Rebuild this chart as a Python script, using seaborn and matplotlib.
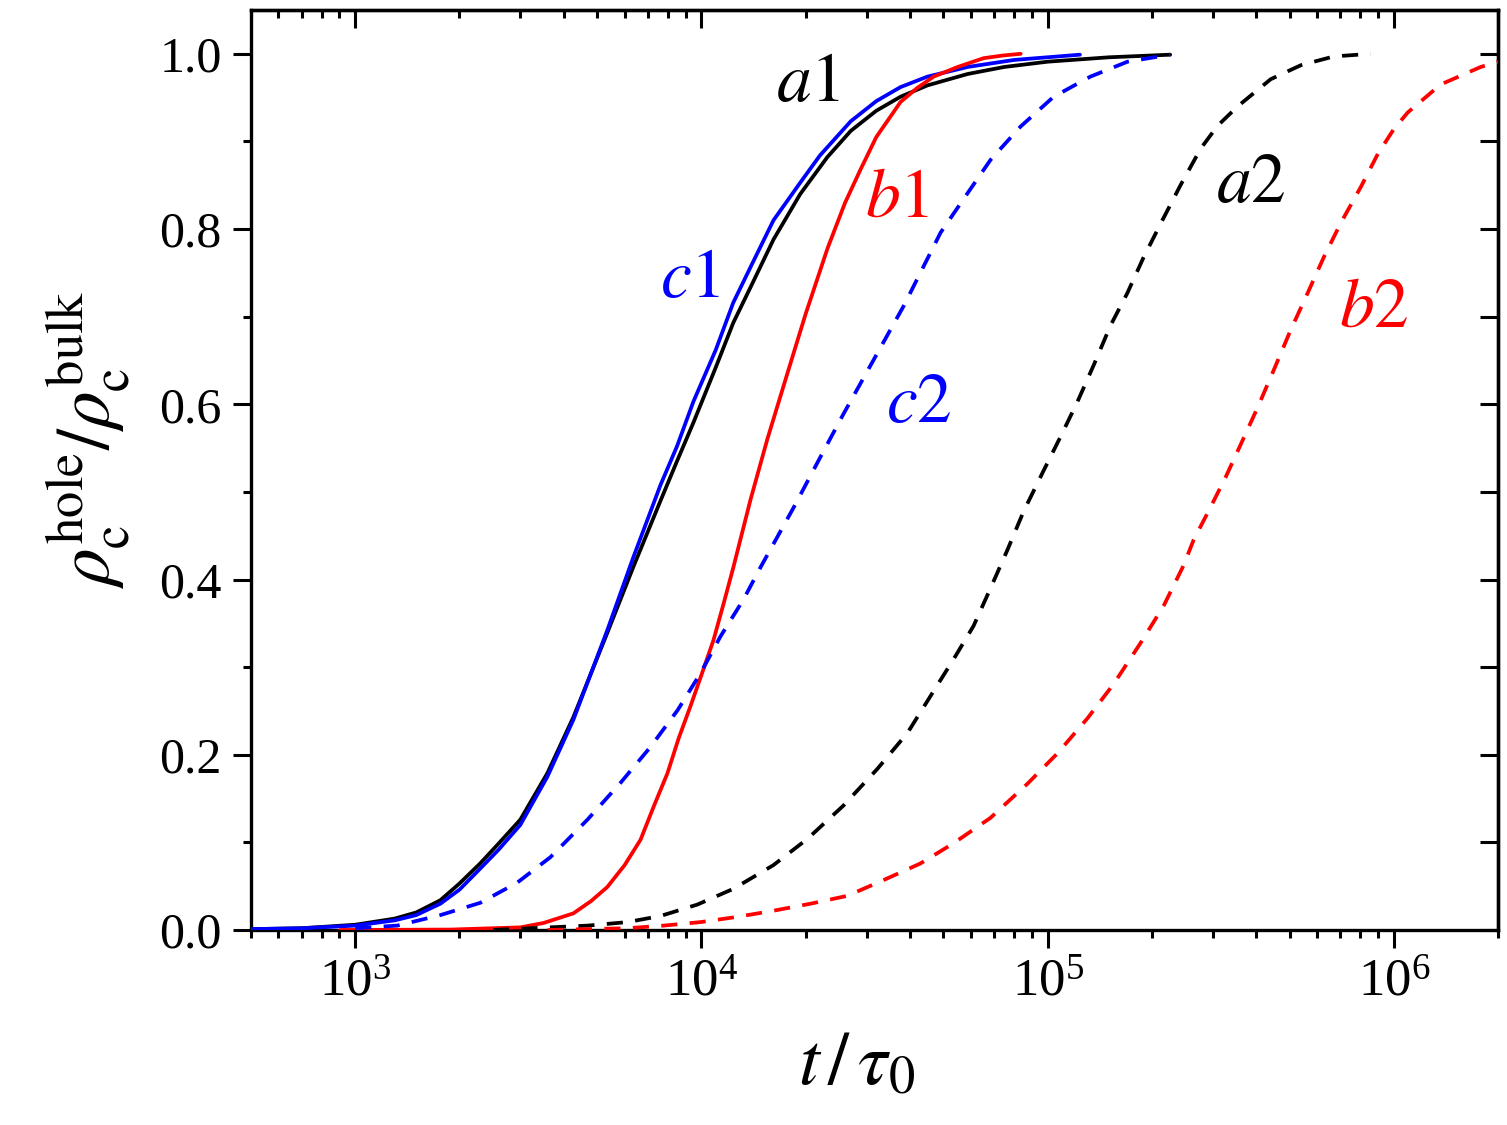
import numpy as np
import pandas as pd
import matplotlib
matplotlib.use("Agg")
import matplotlib.pyplot as plt
from matplotlib.ticker import MultipleLocator, FormatStrFormatter, LogLocator
import seaborn as sns

# ---------------- data ----------------
a1_t = [500, 700, 1000, 1300, 1500, 1762, 2000, 2296, 2600, 2999, 3590, 4268, 5346,
        6353, 7620, 8500, 9480, 11000, 12360, 14000, 16150, 19300, 23100, 27000,
        32000, 37600, 45000, 58800, 75000, 100000, 150000, 226000]
a1_y = [0.001, 0.002, 0.006, 0.013, 0.020, 0.034, 0.053, 0.076, 0.099, 0.126, 0.179,
        0.243, 0.339, 0.414, 0.490, 0.535, 0.579, 0.642, 0.693, 0.737, 0.788, 0.840,
        0.882, 0.912, 0.935, 0.951, 0.964, 0.977, 0.985, 0.991, 0.996, 0.999]

c1_t = [500, 700, 1000, 1300, 1500, 1762, 2000, 2296, 2600, 2999, 3590, 4268, 5346,
        6353, 7620, 8500, 9480, 11000, 12360, 14000, 16150, 19300, 22000, 27000,
        32000, 37600, 45000, 58800, 80000, 124000]
c1_y = [0.001, 0.002, 0.005, 0.011, 0.017, 0.030, 0.046, 0.070, 0.092, 0.120, 0.175,
        0.240, 0.342, 0.425, 0.508, 0.552, 0.603, 0.662, 0.716, 0.760, 0.810, 0.853,
        0.884, 0.923, 0.946, 0.962, 0.974, 0.985, 0.993, 0.999]

b1_t = [906, 1884, 2999, 3500, 4268, 4800, 5346, 6000, 6670, 7300, 7980, 8600, 9290,
        10000, 10840, 11600, 12370, 13860, 15500, 17740, 20000, 23140, 26000, 28820,
        32000, 37600, 42000, 46900, 55000, 65300, 74000, 83600]
b1_y = [0.0, 0.0005, 0.003, 0.008, 0.019, 0.033, 0.049, 0.074, 0.103, 0.142, 0.179,
        0.219, 0.255, 0.291, 0.331, 0.373, 0.414, 0.491, 0.560, 0.636, 0.703, 0.778,
        0.830, 0.868, 0.905, 0.945, 0.961, 0.974, 0.985, 0.995, 0.998, 1.0]

c2_t = [1000, 1322, 1762, 2296, 2937, 3660, 4688, 5840, 7130, 8540, 9940, 11350, 13220,
        14820, 18460, 22080, 25730, 30170, 38370, 49090, 58750, 68430, 83560, 104100,
        133000, 170200, 226000]
c2_y = [0.002, 0.005, 0.017, 0.031, 0.054, 0.083, 0.126, 0.168, 0.209, 0.251, 0.293,
        0.335, 0.377, 0.414, 0.482, 0.540, 0.589, 0.638, 0.712, 0.796, 0.841, 0.879,
        0.917, 0.951, 0.974, 0.991, 0.999]

a2_t = [2500, 4690, 6110, 7620, 9730, 12370, 16140, 20240, 25720, 32250, 39390, 45900,
        53500, 61100, 68400, 76600, 85300, 97300, 109000, 122000, 136000, 152000,
        170000, 189000, 212000, 242000, 277000, 310000, 354000, 441000, 539000,
        671000, 857000]
a2_y = [0.0, 0.005, 0.009, 0.016, 0.029, 0.047, 0.074, 0.104, 0.142, 0.184, 0.225, 0.267,
        0.309, 0.347, 0.390, 0.434, 0.478, 0.524, 0.563, 0.603, 0.645, 0.690, 0.727,
        0.767, 0.806, 0.850, 0.892, 0.918, 0.940, 0.971, 0.987, 0.997, 1.0]

b2_t = [3590, 6110, 7770, 9940, 12700, 16140, 20650, 26400, 33600, 42950, 53500, 68400,
        87500, 107000, 130600, 155300, 185900, 216400, 247000, 264000, 296000, 327000,
        366000, 405000, 450000, 504000, 564000, 628000, 703000, 803000, 900000,
        1000000, 1097000, 1366000, 1783000, 2000000]
b2_y = [0.0, 0.002, 0.005, 0.009, 0.015, 0.022, 0.030, 0.039, 0.057, 0.076, 0.099, 0.128,
        0.167, 0.202, 0.242, 0.281, 0.328, 0.370, 0.416, 0.445, 0.483, 0.517, 0.559,
        0.597, 0.639, 0.685, 0.727, 0.768, 0.807, 0.848, 0.886, 0.914, 0.933, 0.965,
        0.985, 0.991]

curve_names = ["a1", "c1", "b1", "c2", "a2", "b2"]
curve_colors = ["#000000", "#0000FF", "#FF0000", "#0000FF", "#000000", "#FF0000"]
curve_dashed = [False, False, False, True, True, True]

label_text = [r"$a1$", r"$c1$", r"$b1$", r"$c2$", r"$a2$", r"$b2$"]
label_x = [20400, 9290, 36800, 42400, 386000, 875000]
label_y = [0.965, 0.742, 0.833, 0.599, 0.850, 0.708]

# ---------------- style ----------------
sns.set_style("ticks")
plt.rcParams["font.family"] = ["Liberation Serif", "DejaVu Serif"]
plt.rcParams["mathtext.fontset"] = "stix"
for key in ["text.color", "axes.labelcolor", "xtick.color", "ytick.color",
            "axes.edgecolor"]:
    plt.rcParams[key] = "black"

fig = plt.figure(figsize=(15.07, 11.25), dpi=100)
ax = fig.add_axes([251 / 1507, 1 - 930 / 1125, 1247 / 1507, 920 / 1125])

data = {
    "a1": (a1_t, a1_y), "c1": (c1_t, c1_y), "b1": (b1_t, b1_y),
    "c2": (c2_t, c2_y), "a2": (a2_t, a2_y), "b2": (b2_t, b2_y),
}

lw = 2.7
for name, col, dashed in zip(curve_names, curve_colors, curve_dashed):
    t, y = data[name]
    df = pd.DataFrame({"t": t, "y": y})
    sns.lineplot(data=df, x="t", y="y", ax=ax, color=col, lw=lw,
                 estimator=None, sort=False, zorder=3,
                 linestyle=(0, (4.3, 3.3)) if dashed else "-")

ax.set_xscale("log")
ax.set_xlim(500, 2.0e6)
ax.set_ylim(0, 1.05)

for txt, x, y, col in zip(label_text, label_x, label_y, curve_colors):
    ax.text(x, y, txt, color=col, fontsize=50, ha="center", va="center", zorder=4)

# ticks
ax.yaxis.set_major_locator(MultipleLocator(0.2))
ax.yaxis.set_minor_locator(MultipleLocator(0.1))
ax.yaxis.set_major_formatter(FormatStrFormatter("%.1f"))
ax.xaxis.set_major_locator(LogLocator(base=10, numticks=10))
ax.xaxis.set_minor_locator(LogLocator(base=10, subs=np.arange(2, 10), numticks=20))

ax.tick_params(axis="both", which="major", direction="out", length=13, width=2.2,
               color="black", labelcolor="black")
ax.tick_params(axis="both", which="minor", direction="out", length=6, width=2.2,
               color="black")
ax.tick_params(axis="x", which="major", labelsize=38, pad=8)
ax.tick_params(axis="y", which="major", labelsize=36, pad=8)
ax.tick_params(top=False, right=False)

for s in ax.spines.values():
    s.set_linewidth(2.4)
    s.set_color("black")
    s.set_visible(True)

secx = ax.secondary_xaxis("top")
secx.tick_params(which="major", direction="in", length=13, width=2.2, labeltop=False,
                 color="black")
secx.tick_params(which="minor", direction="in", length=6, width=2.2, color="black")
secx.spines["top"].set_linewidth(2.4)

secy = ax.secondary_yaxis("right")
secy.set_yticks(np.round(np.arange(0, 1.01, 0.1), 1))
secy.tick_params(which="major", direction="in", length=13, width=2.2,
                 labelright=False, color="black")
secy.tick_params(which="minor", length=0)
secy.spines["right"].set_linewidth(2.4)

ax.set_xlabel(r"$t\,/\,\tau_{0}$", fontsize=54, color="black")
ax.set_ylabel(r"$\rho_{\mathrm{c}}^{\mathrm{hole}}/\rho_{\mathrm{c}}^{\mathrm{bulk}}$",
              fontsize=54, color="black")
ax.xaxis.set_label_coords(0.486, -0.112)
ax.yaxis.set_label_coords(-0.095, 0.533)

fig.savefig("out.png", dpi=100, facecolor="white")
